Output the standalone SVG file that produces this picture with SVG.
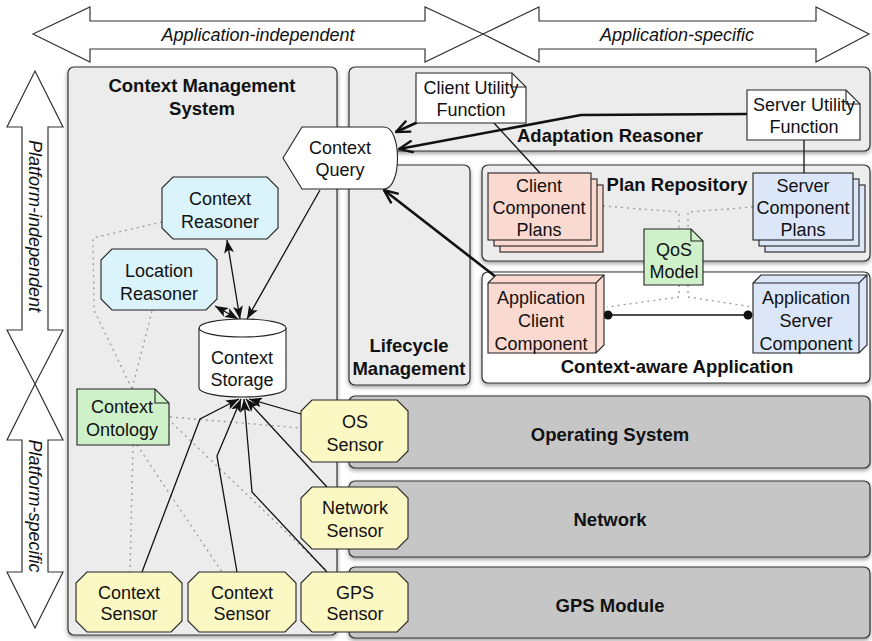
<svg xmlns="http://www.w3.org/2000/svg" width="872" height="641" viewBox="0 0 872 641">
<defs>
<style>
.t{font-family:"Liberation Sans",Arial,Helvetica,sans-serif;font-size:18px;fill:#111;text-anchor:middle}
.b{font-weight:bold;font-size:18.5px}
.i{font-style:italic}
.big{fill:#fff;stroke:#333;stroke-width:1.2}
.panel{fill:#ececec;stroke:#333;stroke-width:1.2}
.dark{fill:#c6c6c6;stroke:#333;stroke-width:1.2}
.white{fill:#fff;stroke:#333;stroke-width:1.2}
.nd{stroke:#222;stroke-width:1.1}
.blue{fill:#dbf4fb}
.yel{fill:#fcf8c4}
.grn{fill:#cff1c9}
.pink{fill:#f9d9d0}
.sblue{fill:#dbe7f9}
.wh{fill:#fff}
.fold{fill:none;stroke:#222;stroke-width:1.1}
.ln{fill:none;stroke:#111;stroke-width:1.3}
.thick{fill:none;stroke:#111;stroke-width:2.6}
.dot{fill:none;stroke:#999;stroke-width:1.3;stroke-dasharray:2 4}
</style>
<marker id="ah" viewBox="0 0 14 10" refX="13" refY="5" markerWidth="14" markerHeight="10" markerUnits="userSpaceOnUse" orient="auto-start-reverse"><path d="M0,0 L13,5 L0,10 L3,5 Z" fill="#111"/></marker>
<marker id="ahT" viewBox="0 0 16 14" refX="15" refY="7" markerWidth="16" markerHeight="14" markerUnits="userSpaceOnUse" orient="auto"><path d="M1,1 L15,7 L1,13" fill="none" stroke="#111" stroke-width="2.4"/></marker>
<filter id="sh" x="-5%" y="-5%" width="110%" height="120%"><feDropShadow dx="0" dy="2" stdDeviation="2" flood-color="#000" flood-opacity="0.4"/></filter>
</defs>

<g id="scope-arrows">
<polygon class="big" points="33,34 90,7 90,21 425,21 425,7 483,34 425,62 425,49 90,49 90,62"/>
<polygon class="big" points="483,34 539,7 539,21 816,21 816,7 869,34 816,62 816,49 539,49 539,62"/>
<text class="t i" x="258" y="41">Application-independent</text>
<text class="t i" x="677" y="41">Application-specific</text>
<polygon class="big" points="35,71 63,127 48,127 48,330 63,330 35,384 7,330 22,330 22,127 7,127"/>
<polygon class="big" points="35,384 63,440 48,440 48,572 63,572 35,628 7,572 22,572 22,440 7,440"/>
<text class="t i" transform="translate(35,226) rotate(90)" dy="6.5">Platform-independent</text>
<text class="t i" transform="translate(35,506) rotate(90)" dy="6.5">Platform-specific</text>
</g>

<g id="panels" filter="url(#sh)">
<rect id="cms" class="panel" x="68" y="67" width="269" height="568" rx="6" fill="#eeeeee"/>
<rect id="adaptation-reasoner" class="panel" x="349" y="67" width="521" height="84" rx="6"/>
<rect id="lifecycle" class="panel" x="349" y="165" width="121" height="220" rx="6"/>
<rect id="plan-repository" class="panel" x="482" y="165" width="388" height="96" rx="6"/>
<rect id="context-aware-app" class="white" x="482" y="272" width="388" height="111" rx="6"/>
<rect id="os" class="dark" x="349" y="396" width="521" height="72" rx="6"/>
<rect id="network" class="dark" x="349" y="481" width="521" height="76" rx="6"/>
<rect id="gps" class="dark" x="349" y="567" width="521" height="71" rx="6"/>
</g>
<g id="panel-labels">
<text class="t b" x="202" y="92">Context Management</text>
<text class="t b" x="202" y="115">System</text>
<text class="t b" x="610" y="142">Adaptation Reasoner</text>
<text class="t b" x="409" y="352">Lifecycle</text>
<text class="t b" x="409" y="375">Management</text>
<text class="t b" x="677" y="191">Plan Repository</text>
<text class="t b" x="677" y="373">Context-aware Application</text>
<text class="t b" x="610" y="441">Operating System</text>
<text class="t b" x="610" y="526">Network</text>
<text class="t b" x="610" y="612">GPS Module</text>
</g>

<g id="connectors">
<path class="dot" d="M162,222 L93,238 L94,310 L132,389"/>
<path class="dot" d="M152,311 L132,389"/>
<path class="dot" d="M170,417 L301,428"/>
<path class="dot" d="M172,423 L327,571"/>
<path class="dot" d="M133,445 L130,572"/>
<path class="dot" d="M137,445 L222,572"/>
<path class="dot" d="M603,206 L679,212 V229"/>
<path class="dot" d="M753,207 L688,212 V229"/>
<path class="dot" d="M679,285 V297 L607,307"/>
<path class="dot" d="M688,285 V297 L753,307"/>
<path class="ln" d="M320,190 L247,319" marker-end="url(#ah)"/>
<path class="ln" d="M227,240 L240,319" marker-start="url(#ah)" marker-end="url(#ah)"/>
<path class="ln" d="M215,306 L238,319" marker-start="url(#ah)" marker-end="url(#ah)"/>
<path class="ln" d="M301,414 L249,399" marker-end="url(#ah)"/>
<path class="ln" d="M327,487 L246,399" marker-end="url(#ah)"/>
<path class="ln" d="M327,572 L252,492 L244,399" marker-end="url(#ah)"/>
<path class="ln" d="M237,572 L217,456 L241,399" marker-end="url(#ah)"/>
<path class="ln" d="M142,572 L200,419 L239,399" marker-end="url(#ah)"/>
<path class="thick" d="M418,122 L396,132" marker-end="url(#ahT)"/>
<path class="thick" d="M747,114 L581,115 L399,149" marker-end="url(#ahT)"/>
<path class="thick" d="M496,277 L384,190" marker-end="url(#ahT)"/>
<path class="ln" d="M494,123 L540,173"/>
<path class="ln" d="M804,140 V173"/>
<path class="ln" d="M608,315 H748"/>
<circle cx="608" cy="315" r="4.5" fill="#111"/>
<circle cx="748" cy="315" r="4.5" fill="#111"/>
</g>

<g id="context-query">
<path class="nd wh" d="M283,158 L302,127 H384 C402,127 402,189 384,189 H302 Z"/>
<text class="t" x="340" y="154">Context</text>
<text class="t" x="340" y="176">Query</text>
</g>
<g id="context-reasoner">
<polygon class="nd blue" points="173,177 267,177 278,188 278,228 267,239 173,239 162,228 162,188"/>
<text class="t" x="220" y="205">Context</text>
<text class="t" x="220" y="228">Reasoner</text>
</g>
<g id="location-reasoner">
<polygon class="nd blue" points="112,249 206,249 217,260 217,299 206,310 112,310 101,299 101,260"/>
<text class="t" x="159" y="277">Location</text>
<text class="t" x="159" y="300">Reasoner</text>
</g>
<g id="context-storage">
<path class="nd wh" d="M199,328 V388 A43.5,9 0 0 0 286,388 V328"/>
<ellipse class="nd wh" cx="242.5" cy="328" rx="43.5" ry="9"/>
<text class="t" x="242" y="364">Context</text>
<text class="t" x="242" y="386">Storage</text>
</g>
<g id="context-ontology">
<path class="nd grn" d="M77,389 H155 L169,403 V445 H77 Z"/>
<path class="fold" d="M155,389 V403 H169"/>
<text class="t" x="122" y="413">Context</text>
<text class="t" x="122" y="436">Ontology</text>
</g>
<g id="os-sensor">
<polygon class="nd yel" points="312,400 397,400 408,411 408,451 397,462 312,462 301,451 301,411"/>
<text class="t" x="355" y="428">OS</text>
<text class="t" x="355" y="451">Sensor</text>
</g>
<g id="network-sensor">
<polygon class="nd yel" points="312,487 397,487 408,498 408,538 397,549 312,549 301,538 301,498"/>
<text class="t" x="355" y="514">Network</text>
<text class="t" x="355" y="537">Sensor</text>
</g>
<g id="gps-sensor">
<polygon class="nd yel" points="312,572 397,572 408,583 408,621 397,632 312,632 301,621 301,583"/>
<text class="t" x="355" y="599">GPS</text>
<text class="t" x="355" y="620">Sensor</text>
</g>
<g id="context-sensor-1">
<polygon class="nd yel" points="87,572 171,572 182,583 182,621 171,632 87,632 76,621 76,583"/>
<text class="t" x="129" y="599">Context</text>
<text class="t" x="129" y="620">Sensor</text>
</g>
<g id="context-sensor-2">
<polygon class="nd yel" points="199,572 285,572 296,583 296,621 285,632 199,632 188,621 188,583"/>
<text class="t" x="242" y="599">Context</text>
<text class="t" x="242" y="620">Sensor</text>
</g>
<g id="client-utility-function">
<path class="nd wh" d="M416,73 H512 L526,87 V123 H416 Z"/>
<path class="fold" d="M512,73 V87 H526"/>
<text class="t" x="471" y="94">Client Utility</text>
<text class="t" x="471" y="116">Function</text>
</g>
<g id="server-utility-function">
<path class="nd wh" d="M747,90 H846 L860,104 V140 H747 Z"/>
<path class="fold" d="M846,90 V104 H860"/>
<text class="t" x="804" y="111">Server Utility</text>
<text class="t" x="804" y="133">Function</text>
</g>
<g id="client-component-plans">
<rect class="nd pink" x="500" y="185" width="103" height="67"/>
<rect class="nd pink" x="494" y="179" width="103" height="67"/>
<rect class="nd pink" x="488" y="173" width="103" height="67"/>
<text class="t" x="539" y="192">Client</text>
<text class="t" x="539" y="214">Component</text>
<text class="t" x="539" y="236">Plans</text>
</g>
<g id="server-component-plans">
<rect class="nd sblue" x="765" y="185" width="100" height="67"/>
<rect class="nd sblue" x="759" y="179" width="100" height="67"/>
<rect class="nd sblue" x="753" y="173" width="100" height="67"/>
<text class="t" x="803" y="192">Server</text>
<text class="t" x="803" y="214">Component</text>
<text class="t" x="803" y="236">Plans</text>
</g>
<g id="qos-model">
<path class="nd grn" d="M644,229 H691 L703,241 V285 H644 Z"/>
<path class="fold" d="M691,229 V241 H703"/>
<text class="t" x="674" y="256">QoS</text>
<text class="t" x="674" y="278">Model</text>
</g>
<g id="application-client-component">
<path class="nd pink" d="M488,283 L496,275 H604 V345 L596,353 H488 Z"/>
<path class="fold" d="M488,283 H596 L604,275 M596,283 V353"/>
<text class="t" x="541" y="304">Application</text>
<text class="t" x="541" y="327">Client</text>
<text class="t" x="541" y="350">Component</text>
</g>
<g id="application-server-component">
<path class="nd sblue" d="M753,283 L761,275 H867 V345 L859,353 H753 Z"/>
<path class="fold" d="M753,283 H859 L867,275 M859,283 V353"/>
<text class="t" x="806" y="304">Application</text>
<text class="t" x="806" y="327">Server</text>
<text class="t" x="806" y="350">Component</text>
</g>
</svg>
